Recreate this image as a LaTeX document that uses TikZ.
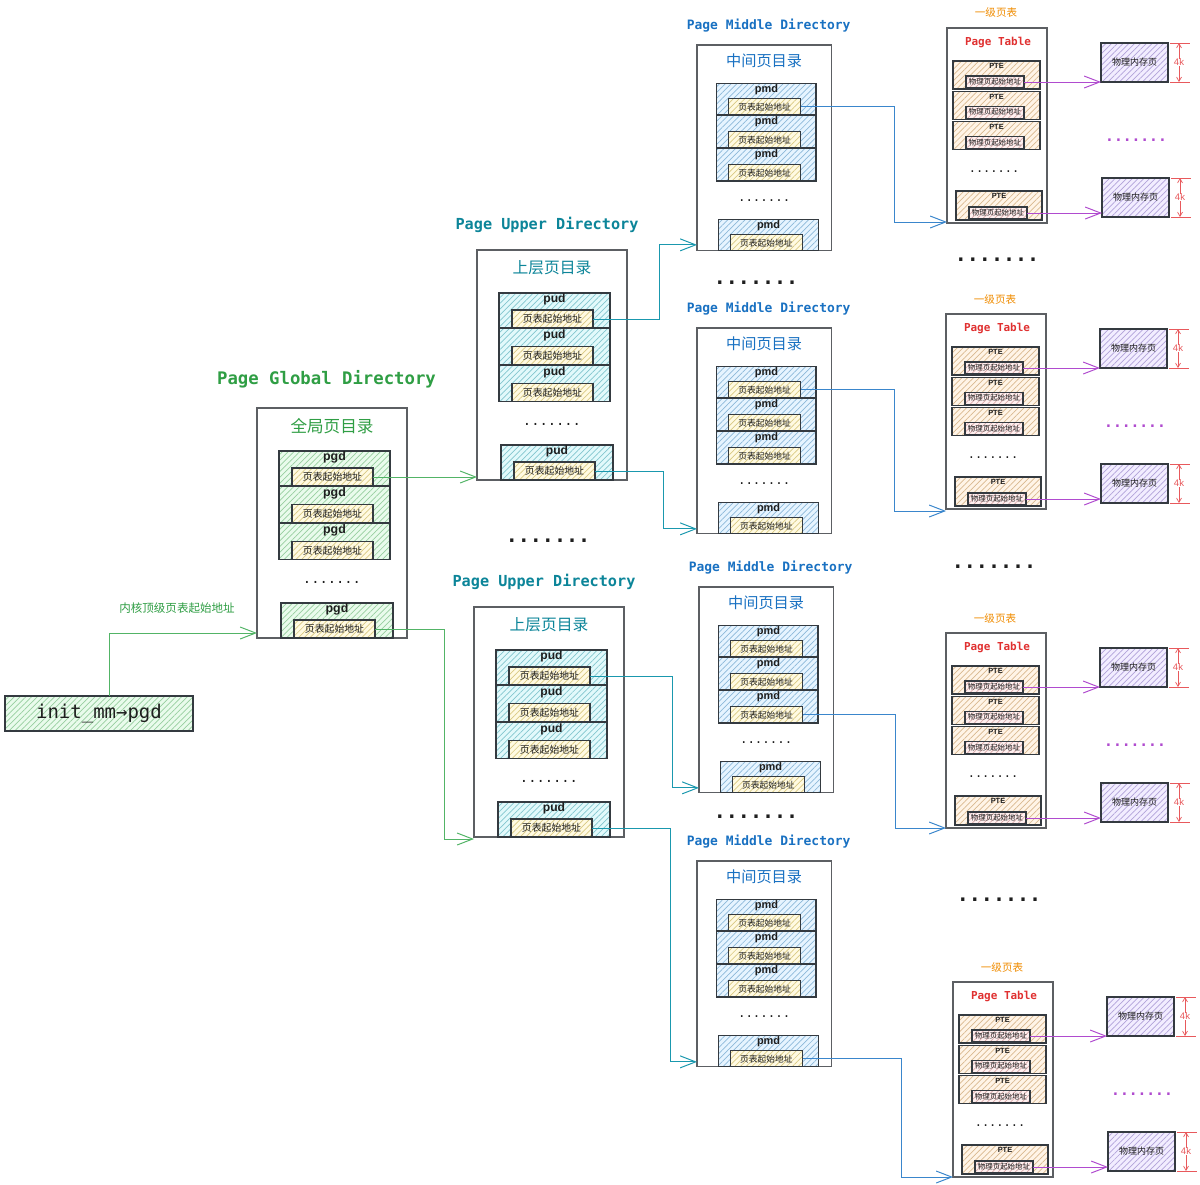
\documentclass[tikz,border=0pt]{standalone}
\usepackage{fontspec}
\setsansfont{Liberation Sans}
\newfontfamily\cjkfont{Noto Sans CJK SC}
\newfontfamily\codefont{DejaVu Sans Mono}
\usetikzlibrary{positioning,arrows.meta,patterns.meta}

\definecolor{pgdcol}{HTML}{2F9E44}
\definecolor{pgdfill}{HTML}{B2F2BB}
\definecolor{pgdflowc}{HTML}{52B466}
\definecolor{pudcol}{HTML}{0C8599}
\definecolor{pudfill}{HTML}{99E9F2}
\definecolor{pudflowc}{HTML}{1A98AE}
\definecolor{pmdcol}{HTML}{1971C2}
\definecolor{pmdfill}{HTML}{A5D8FF}
\definecolor{pmdflowc}{HTML}{3A86CC}
\definecolor{ptcol}{HTML}{E03131}
\definecolor{lvlcol}{HTML}{F08C00}
\definecolor{ptfill}{HTML}{FFD8A8}
\definecolor{addrfill}{HTML}{FFEC99}
\definecolor{pinkfill}{HTML}{FFC9C9}
\definecolor{physfill}{HTML}{D0BFFF}
\definecolor{physflowc}{HTML}{B04BCF}
\definecolor{sizecol}{HTML}{E8595C}
\definecolor{boxline}{HTML}{5C5F63}
\definecolor{entryline}{HTML}{343A40}
\definecolor{inktext}{HTML}{1E1E1E}

% one pixel of the 1200x1184 sheet
\newcommand{\pxu}{0.025cm}
\newcommand{\fsz}[1]{\fontsize{#1}{#1}\selectfont}

\tikzset{
  hatch/.style={preaction={fill=#1!28}, pattern={Lines[angle=45,distance=2.9pt,line width=0.5pt]}, pattern color=#1!85!black},
  dirbox/.style={draw=boxline, line width=0.8pt, fill=white, inner sep=0pt, outer sep=0pt},
  entry/.style={draw=entryline, line width=0.85pt, inner sep=0pt, outer sep=0pt},
  pgd entry/.style={entry, hatch=pgdfill},
  pud entry/.style={entry, hatch=pudfill},
  pmd entry/.style={entry, hatch=pmdfill},
  pte entry/.style={entry, hatch=ptfill, minimum width=87*\pxu, minimum height=28*\pxu},
  addr/.style={entry, hatch=addrfill, text=inktext, font=\cjkfont\fsz{7}},
  pgd addr/.style={},
  pud addr/.style={},
  pmd addr/.style={font=\cjkfont\fsz{6.2}},
  pte addr/.style={entry, hatch=pinkfill, text=inktext, font=\cjkfont\fsz{5.3}, minimum width=58*\pxu, minimum height=12*\pxu},
  pgd title/.style={text=pgdcol, font=\codefont\bfseries\fsz{12.3}, yshift=29*\pxu, xshift=-5.5*\pxu},
  pud title/.style={text=pudcol, font=\codefont\bfseries\fsz{10.8}, yshift=25*\pxu, xshift=-5*\pxu},
  pmd title/.style={text=pmdcol, font=\codefont\bfseries\fsz{9.2}, yshift=19*\pxu, xshift=4.5*\pxu},
  pt title/.style={text=ptcol, font=\codefont\bfseries\fsz{7.8}},
  lvl text/.style={text=lvlcol, font=\cjkfont\fsz{7.5}},
  pgd cn/.style={text=pgdcol, font=\cjkfont\fsz{11.8}},
  pud cn/.style={text=pudcol, font=\cjkfont\fsz{11.2}},
  pmd cn/.style={text=pmdcol, font=\cjkfont\fsz{10.8}},
  pgd lbl/.style={inner sep=0pt, text=inktext, font=\sffamily\bfseries\fsz{8.8}},
  pud lbl/.style={inner sep=0pt, text=inktext, font=\sffamily\bfseries\fsz{8.6}},
  pmd lbl/.style={inner sep=0pt, text=inktext, font=\sffamily\bfseries\fsz{7.8}},
  pte lbl/.style={inner sep=0pt, text=inktext, font=\sffamily\bfseries\fsz{5.3}},
  dotrow/.style={anchor=base, inner sep=0pt, text=inktext},
  pgd dots/.style={font=\codefont\fsz{9.8}},
  pud dots/.style={font=\codefont\fsz{9.8}},
  pmd dots/.style={font=\codefont\fsz{8.8}},
  pt dots/.style={font=\codefont\fsz{8.5}},
  phys dots/.style={font=\codefont\bfseries\fsz{10.4}, text=physflowc},
  big dots/.style={dotrow, font=\codefont\bfseries\fsz{14.2}},
  phys page/.style={entry, hatch=physfill, text=inktext, font=\cjkfont\fsz{6.4}, minimum width=67*\pxu, minimum height=39*\pxu},
  init box/.style={entry, hatch=pgdfill, text=inktext, font=\codefont\fsz{13.5}, minimum width=188*\pxu, minimum height=35*\pxu},
  flow/.style={line width=0.7pt, -{Straight Barb[length=11pt,width=8.5pt]}},
  pgdflow/.style={flow, draw=pgdflowc},
  pudflow/.style={flow, draw=pudflowc},
  pmdflow/.style={flow, draw=pmdflowc},
  pteflow/.style={flow, draw=physflowc},
  size tick/.style={draw=sizecol, line width=0.5pt},
  size arrow/.style={draw=sizecol, line width=0.5pt, arrows={Straight Barb[length=3pt,width=3.5pt]-Straight Barb[length=3pt,width=3.5pt]}},
  size text/.style={fill=white, inner sep=0.3pt, text=sizecol, font=\sffamily\fsz{6.8}},
}

% #1 name, #2 x, #3 y (top left, pixels), #4 size, #5 level, #6 title, #7 chinese title
\newcommand{\DirBlock}[7]{%
  \begin{scope}[shift={(#2,#3)}]
    \node[dirbox, anchor=north west, minimum width=150*#4*\pxu, minimum height=230*#4*\pxu] (#1box) at (0,0) {};
    \node[#5 title] (#1title) at (#1box.north) {#6};
    \node[#5 cn, below=18*#4*\pxu of #1box.north, anchor=center] (#1cn) {#7};
    \node[#5 entry, anchor=north west, minimum width=111*#4*\pxu, minimum height=35*#4*\pxu] (#1e1) at (22*#4,43*#4) {};
    \node[#5 entry, below=0.6pt of #1e1, minimum width=111*#4*\pxu, minimum height=36*#4*\pxu] (#1e2) {};
    \node[#5 entry, below=0.6pt of #1e2, minimum width=111*#4*\pxu, minimum height=36*#4*\pxu] (#1e3) {};
    \node[dotrow, #5 dots] (#1dots) at (75*#4,175*#4) {.......};
    \node[#5 entry, anchor=north west, minimum width=112*#4*\pxu, minimum height=35*#4*\pxu] (#1e4) at (24*#4,195*#4) {};
    \foreach \k in {1,...,4}{
      \node[#5 lbl, below=0.3pt of #1e\k.north] (#1t\k) {#5};
      \node[addr, #5 addr, above right=0pt and 13*#4*\pxu of #1e\k.south west, minimum width=81*#4*\pxu, minimum height=18*#4*\pxu] (#1a\k) {页表起始地址};
    }
  \end{scope}}

% #1 name, #2 x, #3 y (top left, pixels)
\newcommand{\PTBlock}[3]{%
  \begin{scope}[shift={(#2,#3)}]
    \node[dirbox, anchor=north west, minimum width=100*\pxu, minimum height=195*\pxu] (#1box) at (0,0) {};
    \node[lvl text] (#1lvl) at (49,-15) {一级页表};
    \node[pt title] (#1title) at (51,14) {Page Table};
    \node[pte entry, anchor=north west] (#1e1) at (6,33) {};
    \node[pte entry, below=1.5pt of #1e1] (#1e2) {};
    \node[pte entry, below=1.5pt of #1e2] (#1e3) {};
    \node[dotrow, pt dots] (#1dots) at (47,144) {.......};
    \node[pte entry, anchor=north west, minimum width=86*\pxu, minimum height=29*\pxu] (#1e4) at (9,163) {};
    \foreach \k in {1,...,4}{
      \node[pte lbl, below=1.8pt of #1e\k.north] (#1t\k) {PTE};
      \node[pte addr, above right=0.7pt and 13*\pxu of #1e\k.south west] (#1a\k) {物理页起始地址};
    }
    \node[phys page, anchor=north west] (#1p1) at (154,15) {物理内存页};
    \node[phys page, anchor=north west] (#1p2) at (155,150) {物理内存页};
    \node[dotrow, phys dots] (#1pdots) at (189,113) {.......};
    \draw[pteflow] (#1a1.east) -- (#1a1.east -| #1p1.west);
    \draw[pteflow] (#1a4.east) -- (#1a4.east -| #1p2.west);
    \foreach \p in {p1,p2}{
      \draw[size tick] ([xshift=2*\pxu]#1\p.north east) -- ++(20,0);
      \draw[size tick] ([xshift=2*\pxu]#1\p.south east) -- ++(20,0);
      \draw[size arrow] ([xshift=11*\pxu]#1\p.north east) -- ([xshift=11*\pxu]#1\p.south east) node[midway, size text] (#1k\p) {4k};
    }
  \end{scope}}

\begin{document}
\begin{tikzpicture}[x=\pxu, y=-\pxu]
  \fill[white] (0,0) rectangle (1200,1184);
  \useasboundingbox (0,0) rectangle (1200,1184);

  % directories
  \DirBlock{pgd}{257}{408}{1}{pgd}{Page Global Directory}{全局页目录}
  \DirBlock{pudA}{477}{250}{1}{pud}{Page Upper Directory}{上层页目录}
  \DirBlock{pudB}{474}{607}{1}{pud}{Page Upper Directory}{上层页目录}
  \DirBlock{pmdA}{697}{45}{0.895}{pmd}{Page Middle Directory}{中间页目录}
  \DirBlock{pmdB}{697}{328}{0.895}{pmd}{Page Middle Directory}{中间页目录}
  \DirBlock{pmdC}{699}{587}{0.895}{pmd}{Page Middle Directory}{中间页目录}
  \DirBlock{pmdD}{697}{861}{0.895}{pmd}{Page Middle Directory}{中间页目录}

  % page tables
  \PTBlock{ptA}{947}{28}
  \PTBlock{ptB}{946}{314}
  \PTBlock{ptC}{946}{633}
  \PTBlock{ptD}{953}{982}

  % gaps between the blocks
  \node[big dots] (gapA) at (756,284) {.......};
  \node[big dots] (gapB) at (548,542) {.......};
  \node[big dots] (gapC) at (997,261) {.......};
  \node[big dots] (gapD) at (994,568) {.......};
  \node[big dots] (gapE) at (756,818) {.......};
  \node[big dots] (gapF) at (999,901) {.......};

  % init_mm
  \node[init box, anchor=north west] (init) at (5,696) {init\_mm→pgd};
  \draw[pgdflow] ([xshift=10*\pxu]init.north) |- ([yshift=5*\pxu]pgdbox.south west)
    node[pos=0.75, above=14*\pxu, xshift=-6*\pxu, text=pgdcol, font=\cjkfont\fsz{8.2}] (kernlbl) {内核顶级页表起始地址};

  % pgd -> pud
  \draw[pgdflow] (pgda1.east) -- (pgda1.east -| pudAbox.west);
  \draw[pgdflow] (pgda4.east) -- ++(69,0) |- ([yshift=-2*\pxu]pudBbox.south west);

  % pud -> pmd
  \draw[pudflow] (pudAa1.east) -- ++(66,0) |- ([yshift=6*\pxu]pmdAbox.south west);
  \draw[pudflow] (pudAa4.east) -- ++(68,0) |- ([yshift=5*\pxu]pmdBbox.south west);
  \draw[pudflow] (pudBa1.east) -- ++(82,0) |- ([yshift=5*\pxu]pmdCbox.south west);
  \draw[pudflow] (pudBa4.east) -- ++(78,0) |- ([yshift=5*\pxu]pmdDbox.south west);

  % pmd -> page table
  \draw[pmdflow] (pmdAa1.east) -- ++(94,0) |- ([yshift=1*\pxu]ptAbox.south west);
  \draw[pmdflow] (pmdBa1.east) -- ++(94,0) |- ([yshift=-2*\pxu]ptBbox.south west);
  \draw[pmdflow] (pmdCa3.east) -- ++(93,0) |- (ptCbox.south west);
  \draw[pmdflow] (pmdDa4.east) -- ++(99,0) |- (ptDbox.south west);
\end{tikzpicture}
\end{document}
